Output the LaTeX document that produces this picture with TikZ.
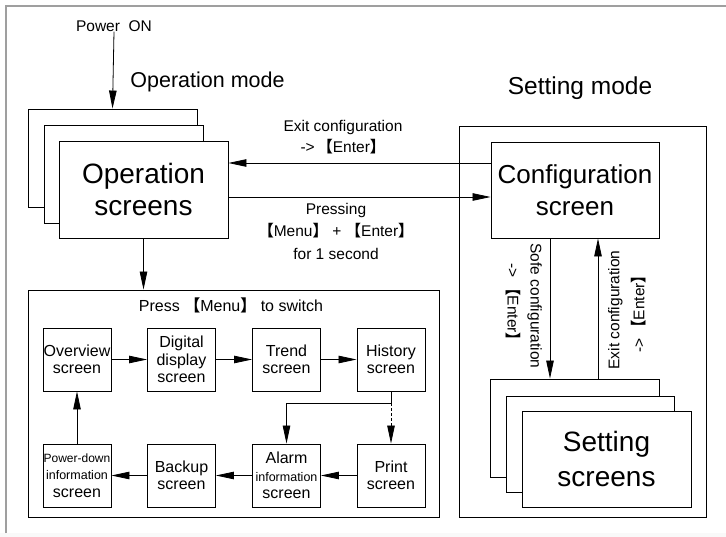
\documentclass[tikz,border=0pt]{standalone}
\usepackage{fontspec}
\setmainfont{Liberation Sans}
\newfontfamily\cjkfont{Noto Sans CJK SC}
\usetikzlibrary{arrows.meta}
\newcommand{\LBk}{{\cjkfont\bfseries 【}}
\newcommand{\RBk}{{\cjkfont\bfseries 】}}
\newcommand{\fs}[2]{\fontsize{#1}{#2}\selectfont}
\begin{document}
\begin{tikzpicture}[x=1pt,y=-1pt,
  box/.style={draw, line width=0.9pt, fill=white, inner sep=0pt, align=center},
  sbox/.style={box, minimum width=68pt, minimum height=63pt, font=\fs{16}{17.5}},
  arr/.style={line width=0.8pt, -{Triangle[length=18pt,width=7.5pt]}},
  lbl/.style={inner sep=0pt, align=center, font=\fs{15.5}{21}}]
\useasboundingbox (0,0) rectangle (726,537);
\fill[gray!5] (0,533) rectangle (726,537);
\draw[gray!75, line width=2pt] (6,533) -- (6,6) -- (726,6);

% texts at top
\node[lbl] (pon) at (114,26) {Power\ \ ON};
\node[inner sep=0pt, font=\fs{21.5}{24}] (opmode) at (207.5,82) {Operation mode};
\node[inner sep=0pt, font=\fs{24.5}{28}] (setmode) at (580,88) {Setting mode};

% operation screens stack
\node[box, minimum width=169pt, minimum height=98pt] (opb) at (112.5,158) {};
\node[box, minimum width=159pt, minimum height=98pt] (opm) at (123.5,174) {};
\node[box, minimum width=169pt, minimum height=97pt, font=\fs{28}{32}] (opf) at (143.5,189.5) {Operation\\screens};

% setting mode frame
\node[box, minimum width=247pt, minimum height=391pt] (setfr) at (582.5,321.5) {};
\node[box, minimum width=168pt, minimum height=96pt, font=\fs{26}{32}] (cfg) at (575,190) {Configuration\\screen};
\node[box, minimum width=169pt, minimum height=98pt] (sb) at (574.5,428) {};
\node[box, minimum width=168pt, minimum height=96pt] (sm) at (590,444) {};
\node[box, minimum width=169pt, minimum height=96pt, font=\fs{28}{35}] (sf) at (606.5,459) {Setting\\screens};

% menu group
\node[box, minimum width=411pt, minimum height=227pt] (grp) at (233.5,403.5) {};
\node[lbl, font=\fs{16}{21}] (grplbl) at (231,305) {Press \LBk Menu\RBk\ to switch};

\node[sbox] (ov) at (77,359.5) {Overview\\screen};
\node[sbox] (dg) at (181.5,359.5) {Digital\\display\\screen};
\node[sbox] (tr) at (286.5,359.5) {Trend\\screen};
\node[sbox] (hi) at (391,359.5) {History\\screen};
\node[sbox] (pd) at (77,475.5) {{\fs{12}{17}Power-down}\\{\fs{12.5}{17}information}\\screen};
\node[sbox] (bk) at (181.5,475.5) {Backup\\screen};
\node[sbox] (al) at (286.5,475.5) {Alarm\\{\fs{12.5}{17}information}\\screen};
\node[sbox] (pr) at (391,475.5) {Print\\screen};

% connectors
\draw[arr] (pon.south) -- (opb.north);
\path ([yshift=27pt]cfg.west) coordinate (ex1);
\draw[arr] (ex1) -- (ex1 -| opf.east);
\path ([yshift=-7.5pt]opf.east) coordinate (pr1);
\draw[arr] (pr1) -- (pr1 -| cfg.west);
\node[lbl] (exlbl) at (343,137) {Exit configuration\\->\,\LBk Enter\RBk};
\node[lbl, font=\fs{15.5}{22.5}] (prlbl) at (336,231) {Pressing\\\LBk Menu\RBk\ + \LBk Enter\RBk\\for 1 second};
\draw[arr] (opf.south) -- (opf.south |- grp.north);

\draw[arr] (ov) -- (dg);
\draw[arr] (dg) -- (tr);
\draw[arr] (tr) -- (hi);
\draw[arr] (hi.south) -- ++(0,12) -| (al.north);
\draw[arr, dash pattern=on 3pt off 2pt] ([yshift=-12pt]hi.south) -- (pr.north);
\draw[arr] (pr) -- (al);
\draw[arr] (al) -- (bk);
\draw[arr] (bk) -- (pd);
\draw[arr] (pd) -- (ov);

\path ([xshift=-25pt]cfg.south) coordinate (s1);
\draw[arr] (s1) -- (s1 |- sb.north);
\path ([xshift=23pt]cfg.south) coordinate (s2);
\draw[arr] (s2 |- sb.north) -- (s2);
\node[lbl, rotate=-90, font=\fs{15.5}{23}] (sofelbl) at (524,306) {Sofe configuration\\->\,\LBk Enter\RBk};
\node[lbl, rotate=90, font=\fs{15.5}{25}] (exvlbl) at (627,310) {Exit configuration\\->\,\LBk Enter\RBk};
\end{tikzpicture}
\end{document}
